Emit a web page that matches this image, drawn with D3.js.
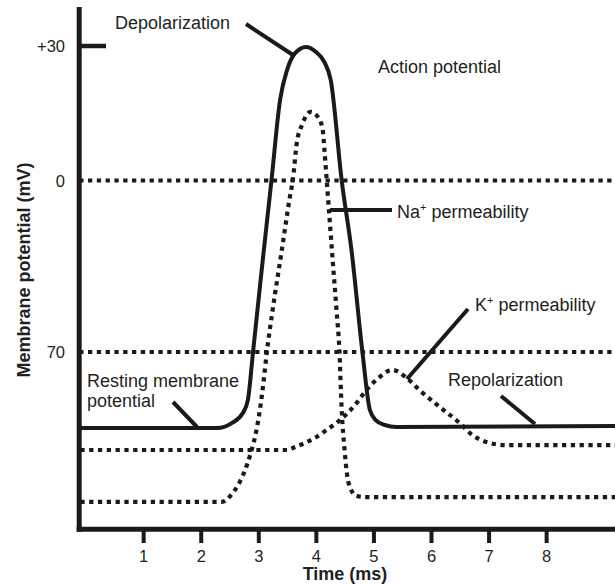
<!DOCTYPE html>
<html><head><meta charset="utf-8">
<script src="https://cdn.jsdelivr.net/npm/d3@7"></script>
<style>
html,body{margin:0;padding:0;background:#fff;}
text{font-family:"Liberation Sans",Arial,Helvetica,sans-serif;fill:#231f20;}
</style></head>
<body><svg id="chart" width="615" height="585"></svg>
<script>
// ---- data (time in ms, potential in schematic mV units) ----
const xTicks = [1, 2, 3, 4, 5, 6, 7, 8];
const yTickValues = [30, 0, -70];
const yTickLabels = ["+30", "0", "70"];
const refLines = [0, -70];

const apTime = [-0.1, 2.27, 2.53, 2.72, 2.81, 2.90, 3.05, 3.22, 3.37, 3.49, 3.63, 3.82, 3.99, 4.14, 4.25, 4.44, 4.61, 4.80, 4.93, 5.03, 5.19, 5.39, 9.2];
const apValue = [-101, -101, -99, -95, -89.6, -70, -36.5, 0, 18, 24.6, 28.4, 29.8, 28.7, 26.4, 22.4, 0, -28.4, -70, -93.7, -97.8, -99.8, -100.6, -100.2];

const naTime = [-0.1, 2.36, 2.53, 2.67, 2.85, 2.97, 3.07, 3.14, 3.24, 3.40, 3.54, 3.59, 3.66, 3.75, 3.90, 4.04, 4.11, 4.14, 4.18, 4.27, 4.35, 4.40, 4.44, 4.49, 4.56, 4.70, 4.86, 9.2];
const naValue = [-131.2, -131.2, -128, -123, -112, -100.6, -84.7, -70, -52.9, -28.4, -6.7, 0, 8.4, 12.4, 15.3, 13.9, 11.3, 6.8, 0, -28.4, -52.9, -69.2, -93.7, -110, -123.5, -128.8, -129.2, -129.2];

const kTime = [-0.1, 3.49, 3.63, 3.80, 3.97, 4.18, 4.41, 4.70, 4.87, 5.10, 5.32, 5.57, 5.79, 6.14, 6.49, 6.71, 6.95, 7.30, 9.2];
const kValue = [-110, -110, -108.8, -107.1, -105.1, -101.8, -97.8, -90.8, -85.5, -80.2, -77.3, -80.6, -85.5, -92.4, -99, -103.9, -106.7, -108, -108];

// ---- scales ----
const svg = d3.select("#chart");
const W = 615;
const x = d3.scaleLinear().domain([0, 9]).range([86.1, 604.2]);
const y = d3.scaleLinear().domain([30, 0, -70]).range([46, 180.5, 352]);
const axisX = 79.2, axisY = 529.2, axisTop = 7;
const ink = "#1a1a1a";

// dotted reference lines
svg.selectAll(".ref").data(refLines).enter().append("line")
  .attr("x1", axisX).attr("x2", W)
  .attr("y1", d => y(d)).attr("y2", d => y(d))
  .attr("stroke", ink).attr("stroke-width", 4.2)
  .attr("stroke-dasharray", "4.3,4.5");

const line = d3.line().x(d => x(d[0])).y(d => y(d[1])).curve(d3.curveMonotoneX);
const zip = (a, b) => a.map((v, i) => [v, b[i]]);

// permeability curves (dotted)
[[naTime, naValue], [kTime, kValue]].forEach(([t, v]) => {
  svg.append("path").attr("d", line(zip(t, v)))
    .attr("fill", "none").attr("stroke", ink).attr("stroke-width", 4.2)
    .attr("stroke-dasharray", "4.3,4.5");
});

// action potential (solid)
svg.append("path").attr("d", line(zip(apTime, apValue)))
  .attr("fill", "none").attr("stroke", ink).attr("stroke-width", 4)
  .attr("stroke-linejoin", "round");

// axes
svg.append("line").attr("x1", axisX).attr("x2", axisX).attr("y1", axisTop).attr("y2", axisY + 2.5)
  .attr("stroke", ink).attr("stroke-width", 5);
svg.append("line").attr("x1", axisX - 2.5).attr("x2", W).attr("y1", axisY).attr("y2", axisY)
  .attr("stroke", ink).attr("stroke-width", 5);

// x ticks
svg.selectAll(".xt").data(xTicks).enter().append("line")
  .attr("x1", d => x(d)).attr("x2", d => x(d))
  .attr("y1", axisY).attr("y2", 543)
  .attr("stroke", ink).attr("stroke-width", 4);
svg.selectAll(".xl").data(xTicks).enter().append("text")
  .attr("x", d => x(d)).attr("y", 562).attr("text-anchor", "middle")
  .attr("font-size", 16.5).text(d => d);

// +30 tick
svg.append("line").attr("x1", axisX).attr("x2", 106).attr("y1", y(30)).attr("y2", y(30))
  .attr("stroke", ink).attr("stroke-width", 4.5);
// y labels
svg.selectAll(".yl").data(yTickValues).enter().append("text")
  .attr("x", 65).attr("y", d => y(d) + 6).attr("text-anchor", "end")
  .attr("font-size", 16.5).text((d, i) => yTickLabels[i]);

// axis titles
svg.append("text").attr("x", 345).attr("y", 580).attr("text-anchor", "middle")
  .attr("font-size", 18).attr("font-weight", "bold").text("Time (ms)");
svg.append("text").attr("transform", "translate(30,270) rotate(-90)")
  .attr("text-anchor", "middle").attr("font-size", 18).attr("font-weight", "bold")
  .text("Membrane potential (mV)");

// annotations
const fs = 18;
function leader(x1, y1, x2, y2) {
  svg.append("line").attr("x1", x1).attr("y1", y1).attr("x2", x2).attr("y2", y2)
    .attr("stroke", ink).attr("stroke-width", 4);
}
svg.append("text").attr("x", 115).attr("y", 29).attr("font-size", fs).text("Depolarization");
leader(246, 24, 293, 55);
svg.append("text").attr("x", 378).attr("y", 73).attr("font-size", fs).text("Action potential");

const na = svg.append("text").attr("x", 397).attr("y", 218).attr("font-size", fs);
na.append("tspan").text("Na");
na.append("tspan").attr("font-size", 11).attr("dy", -7).text("+");
na.append("tspan").attr("dy", 7).text(" permeability");
leader(330, 210, 392, 210);

const k = svg.append("text").attr("x", 475).attr("y", 311).attr("font-size", fs);
k.append("tspan").text("K");
k.append("tspan").attr("font-size", 11).attr("dy", -7).text("+");
k.append("tspan").attr("dy", 7).text(" permeability");
leader(468, 309, 407, 379);

svg.append("text").attr("x", 448).attr("y", 386).attr("font-size", fs).text("Repolarization");
leader(501, 396, 535, 424);

const rest = svg.append("text").attr("x", 87).attr("y", 387).attr("font-size", fs);
rest.append("tspan").attr("x", 87).text("Resting membrane");
rest.append("tspan").attr("x", 87).attr("dy", 20).text("potential");
leader(173, 402, 197, 427);
</script></body></html>
